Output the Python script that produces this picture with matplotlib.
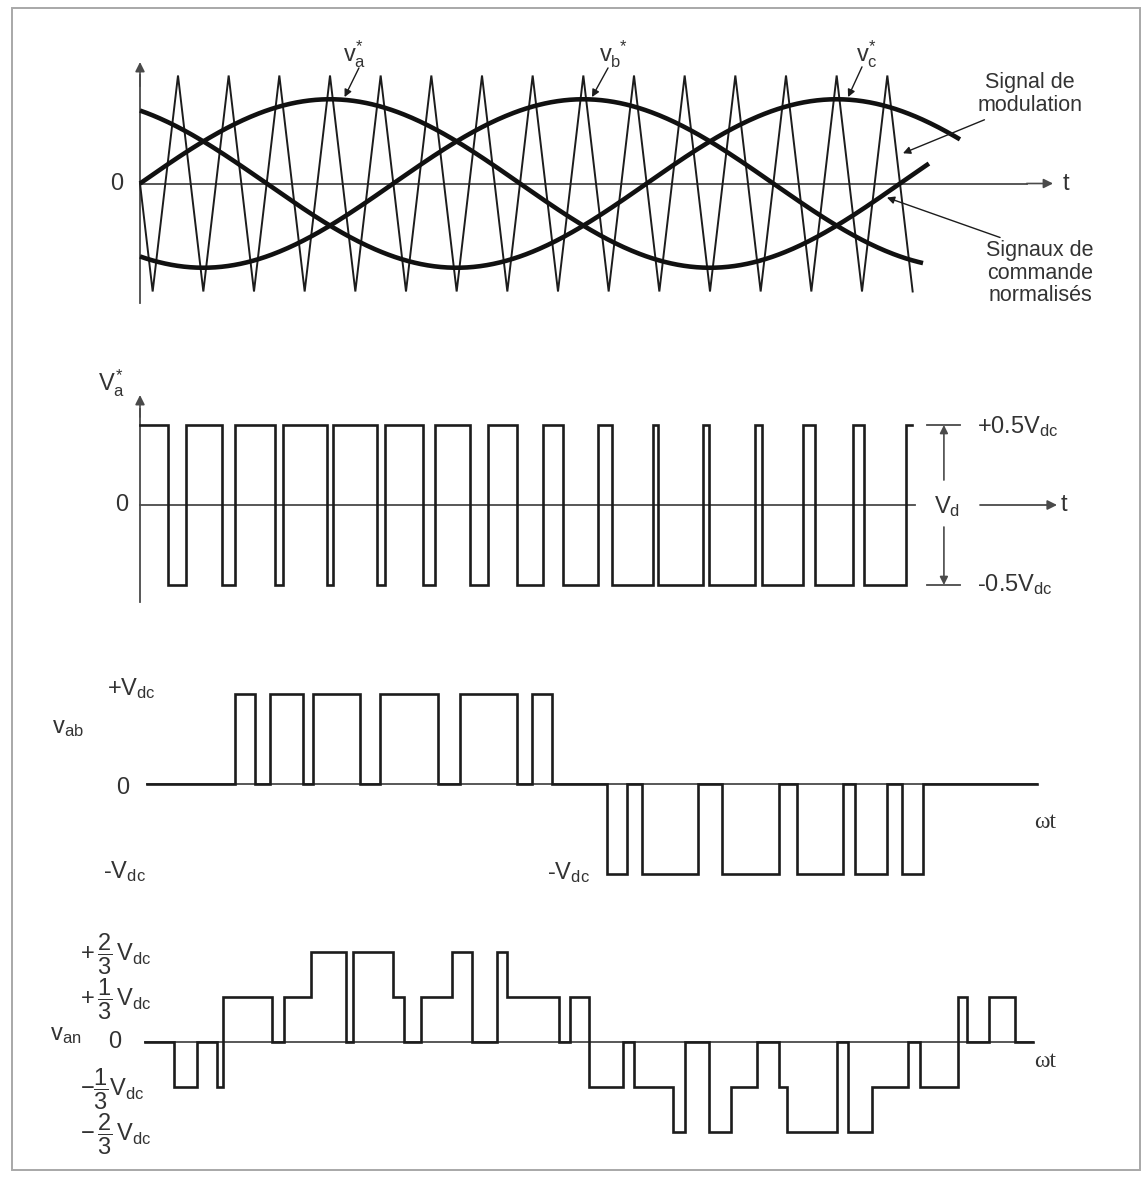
"""
Three-phase sine-triangle PWM: carrier/reference signals, pole voltage,
line-to-line voltage and phase-to-neutral voltage.
"""
import numpy as np
import matplotlib
matplotlib.use('Agg')
import matplotlib.pyplot as plt
from matplotlib.patches import Rectangle

plt.rcParams['font.family'] = ['Liberation Sans', 'DejaVu Sans']
plt.rcParams['mathtext.fontset'] = 'custom'
plt.rcParams['mathtext.rm'] = 'Liberation Sans'
plt.rcParams['mathtext.it'] = 'Liberation Sans'
plt.rcParams['mathtext.bf'] = 'Liberation Sans:bold'

W, H = 1147, 1178
DEG_PER_PX = 360 / 760      # one fundamental period spans 760 px
X0_PX = 140                 # position of the time origin

INK = '#1c1c1c'
AXIS = '#4a4a4a'
TXT = '#333333'
FS = 17        # axis labels
FS_NOTE = 15.5  # side notes

# ---- panel 1: triangular carrier (unit amplitude) and references ----
carrier_peaks_deg = [18, 42, 66, 90, 114, 138, 162, 186, 210, 234, 258, 282,
                     306, 330, 354]
carrier_valleys_deg = [6, 30, 54, 78, 102, 126, 150, 174, 198, 222, 246, 270,
                       294, 318, 342, 366]
mod_index = 0.78
ref_phase_deg = {'a': 0, 'b': -120, 'c': 120}
ref_end_deg = {'a': 373.7, 'b': 370.9, 'c': 388.4}

# ---- panel 2: pole voltage v_a (in Vdc) ----
va_edges = [0, 13.4, 21.8, 39.0, 45.0, 63.9, 67.6, 88.4, 91.6, 112.1, 116.1,
            134.2, 139.7, 156.3, 165.0, 178.4, 191.0, 200.5, 217.1, 223.4,
            242.8, 245.4, 266.8, 269.7, 291.3, 294.5, 313.9, 319.7, 337.8,
            342.9, 362.8]
va_levels = [0.5, -0.5] * 15 + [0.5]
va_end = 365.7

# ---- panel 3: line voltage v_ab (in Vdc) ----
vab_edges = [3.3, 45.0, 54.5, 61.6, 77.4, 82.1, 104.2, 113.7, 141.3, 151.6,
             178.4, 185.8, 195.0, 221.0, 230.7, 237.8, 264.5, 275.6, 302.5,
             311.2, 333.0, 338.9, 353.9, 360.8, 371.0]
vab_levels = [0, 1, 0, 1, 0, 1, 0, 1, 0, 1, 0, 1, 0,
              -1, 0, -1, 0, -1, 0, -1, 0, -1, 0, -1, 0]
vab_end = 424.9

# ---- panel 4: phase voltage v_an (in thirds of Vdc) ----
van_edges = [2.4, 16.1, 26.9, 36.6, 39.1, 62.4, 68.2, 80.9, 97.4, 101.0,
             119.9, 125.0, 132.9, 147.6, 157.1, 168.9, 174.0, 198.6, 203.7,
             212.8, 228.9, 234.0, 252.6, 258.2, 269.5, 279.8, 292.4, 302.7,
             306.3, 330.0, 335.5, 346.8, 363.6, 369.5, 387.3, 391.9, 402.3,
             414.5]
van_thirds = [0, -1, 0, -1, 1, 0, 1, 2, 0, 2, 1, 0, 1, 2, 0, 2, 1, 0, 1, -1,
              0, -1, -2, 0, -2, -1, 0, -1, -2, 0, -2, -1, 0, -1, 1, 0, 1, 0]
van_end = 423.1


def panel(fig, top_px, bottom_px, zero_px, px_per_unit):
    """Full-width axes in degrees (x) and signal units (y)."""
    ax = fig.add_axes([0, 1 - bottom_px / H, 1, (bottom_px - top_px) / H])
    ax.set_xlim(-X0_PX * DEG_PER_PX, (W - X0_PX) * DEG_PER_PX)
    ax.set_ylim((zero_px - bottom_px) / px_per_unit,
                (zero_px - top_px) / px_per_unit)
    ax.axis('off')
    return ax


def arrow(ax, tail, tip, lw=1.2, color=AXIS, ms=14):
    ax.annotate('', xy=tip, xytext=tail,
                arrowprops=dict(arrowstyle='-|>', color=color, lw=lw,
                                mutation_scale=ms, shrinkA=0, shrinkB=0))


def step(ax, edges, levels, end, lw=1.9):
    x = list(edges) + [end]
    y = list(levels) + [levels[-1]]
    ax.plot(x, y, drawstyle='steps-post', color=INK, lw=lw,
            solid_joinstyle='miter')


fig = plt.figure(figsize=(W / 100, H / 100), dpi=100)
fig.patch.set_facecolor('white')
fig.add_artist(Rectangle((12 / W, 1 - 1170 / H), 1128 / W, 1162 / H,
                         transform=fig.transFigure, fill=False,
                         edgecolor='#a8a8a8', lw=1.4))

# ---------------- panel 1 ----------------
ax1 = panel(fig, 20, 325, 183.5, 108)
ax1.plot([0, 0], [-1.106, 1.0], color=AXIS, lw=1.3)
arrow(ax1, (0, 0.9), (0, 1.125))
ax1.plot([0, 420], [0, 0], color=AXIS, lw=1.3)
arrow(ax1, (420, 0), (432.5, 0))
ax1.text(437, 0, 't', fontsize=FS, color=TXT, va='center', ha='left')
ax1.text(-10.9, 0, '0', fontsize=FS, color=TXT, va='center', ha='center')

vertices = sorted([(0, 0.0)] + [(t, 1.0) for t in carrier_peaks_deg]
                  + [(t, -1.0) for t in carrier_valleys_deg])
ax1.plot([v[0] for v in vertices], [v[1] for v in vertices],
         color=INK, lw=1.4, solid_joinstyle='miter')

for ph in ('a', 'b', 'c'):
    th = np.linspace(0, ref_end_deg[ph], 500)
    ax1.plot(th, mod_index * np.sin(np.radians(th + ref_phase_deg[ph])),
             color='#111111', lw=3.3, solid_capstyle='butt')

for lbl, pos, tail, tip in [
        (r'$v_a^{*}$', (101.8, 1.20), (103.7, 1.07), (96.9, 0.80)),
        (r'$v_b^{\ *}$', (224.0, 1.20), (221.7, 1.07), (214.1, 0.80)),
        (r'$v_c^{*}$', (344.4, 1.20), (342.0, 1.08), (335.4, 0.80))]:
    ax1.text(*pos, lbl, fontsize=FS, color=TXT, ha='center', va='center')
    arrow(ax1, tail, tip, lw=1.0, color=INK, ms=11)

ax1.text(421.6, 0.83, 'Signal de\nmodulation', fontsize=FS_NOTE, color=TXT,
         ha='center', va='center', linespacing=1.15)
arrow(ax1, (400.0, 0.59), (361.4, 0.28), lw=1.0, color=INK, ms=11)
ax1.text(426.3, -0.83, 'Signaux de\ncommande\nnormalisés', fontsize=FS_NOTE,
         color=TXT, ha='center', va='center', linespacing=1.1)
arrow(ax1, (407.4, -0.50), (353.8, -0.13), lw=1.0, color=INK, ms=11)

# ---------------- panel 2 ----------------
ax2 = panel(fig, 340, 625, 505, 160)
ax2.plot([0, 0], [-0.606, 0.6], color=AXIS, lw=1.3)
arrow(ax2, (0, 0.55), (0, 0.6875))
ax2.plot([0, 367.1], [0, 0], color=AXIS, lw=1.3)
step(ax2, va_edges, va_levels, va_end)
ax2.text(-13.7, 0.7625, r'$V_a^{*}$', fontsize=FS, color=TXT,
         ha='center', va='center')
ax2.text(-8.5, 0, '0', fontsize=FS, color=TXT, ha='center', va='center')

# Vd dimension marker
for lev in (0.5, -0.5):
    ax2.plot([372.8, 388.4], [lev, lev], color=AXIS, lw=1.3)
arrow(ax2, (380.8, 0.156), (380.8, 0.5), lw=1.2, ms=12)
arrow(ax2, (380.8, -0.1375), (380.8, -0.5), lw=1.2, ms=12)
ax2.text(382.1, -0.01, r'V$_d$', fontsize=FS, color=TXT,
         ha='center', va='center')
arrow(ax2, (397.9, 0), (434.4, 0), lw=1.3)
ax2.text(436.0, 0, 't', fontsize=FS, color=TXT, ha='left', va='center')
ax2.text(396.5, 0.49, r'+0.5V$_{dc}$', fontsize=FS, color=TXT,
         ha='left', va='center')
ax2.text(396.5, -0.50, r'-0.5V$_{dc}$', fontsize=FS, color=TXT,
         ha='left', va='center')

# ---------------- panel 3 ----------------
ax3 = panel(fig, 640, 900, 783.5, 90)
ax3.plot([vab_edges[0], vab_end], [0, 0], color=AXIS, lw=1.3)
step(ax3, vab_edges, vab_levels, vab_end)
ax3.text(-15.6, 1.06, r'+V$_{dc}$', fontsize=FS, color=TXT,
         ha='left', va='center')
ax3.text(-41.7, 0.62, r'v$_{ab}$', fontsize=FS, color=TXT,
         ha='left', va='center')
ax3.text(-8.05, -0.05, '0', fontsize=FS, color=TXT, ha='center', va='center')
ax3.text(-17.5, -0.98, r'-V$_{dc}$', fontsize=FS, color=TXT,
         ha='left', va='center')
ax3.text(192.8, -0.99, r'-V$_{dc}$', fontsize=FS, color=TXT,
         ha='left', va='center')
ax3.text(428.7, -0.43, 'ωt', fontsize=FS, color=TXT, ha='center',
         va='center', family='Liberation Serif')

# ---------------- panel 4 ----------------
ax4 = panel(fig, 900, 1178, 1041.7, 135)
ax4.plot([van_edges[0], van_end], [0, 0], color=AXIS, lw=1.3)
step(ax4, van_edges, [k / 3 for k in van_thirds], van_end)
for frac_lbl, lev in [(r'$+\,\dfrac{2}{3}\,V_{dc}$', 2 / 3),
                      (r'$+\,\dfrac{1}{3}\,V_{dc}$', 1 / 3),
                      (r'$-\dfrac{1}{3}V_{dc}$', -1 / 3),
                      (r'$-\,\dfrac{2}{3}\,V_{dc}$', -2 / 3)]:
    ax4.text(-28.4, lev - 0.02, frac_lbl, fontsize=17, color=TXT,
             ha='left', va='center')
ax4.text(-11.8, 0.0, '0', fontsize=FS, color=TXT, ha='center', va='center')
ax4.text(-42.6, 0.05, r'v$_{an}$', fontsize=FS, color=TXT,
         ha='left', va='center')
ax4.text(428.7, -0.15, 'ωt', fontsize=FS, color=TXT, ha='center',
         va='center', family='Liberation Serif')

fig.savefig('out.png', dpi=100, facecolor='white')
